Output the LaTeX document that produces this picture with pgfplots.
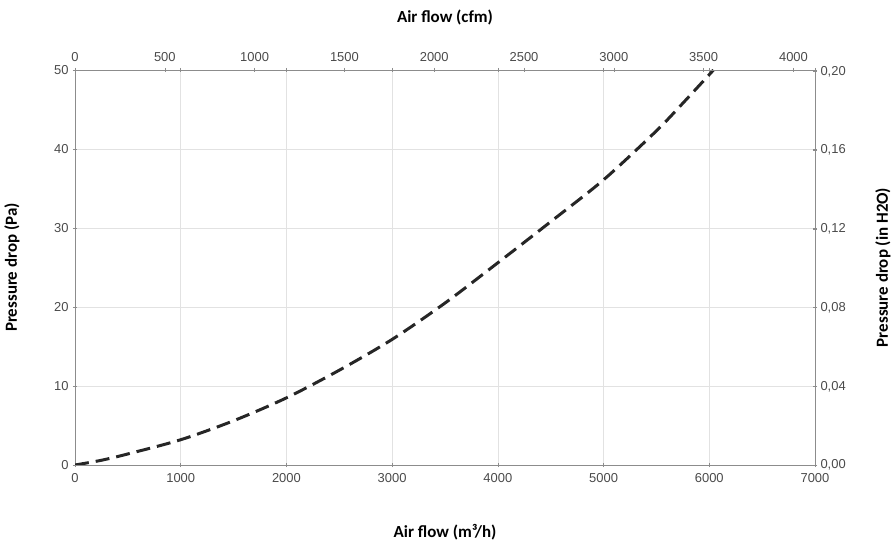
\documentclass[border=0pt]{standalone}
\usepackage{pgfplots}
\pgfplotsset{compat=1.18}
\usetikzlibrary{calc}
\usepackage{fontspec}
\setmainfont{Liberation Sans}
\newfontfamily\titlefont{Carlito}
\definecolor{gridc}{HTML}{E2E2E2}
\definecolor{axc}{HTML}{8C8C8C}
\definecolor{tickc}{HTML}{4A4A4A}
\begin{document}
\begin{tikzpicture}
\pgfplotsset{
  common/.style={
    scale only axis, width=740bp, height=395bp,
    axis line style={color=axc, line width=0.9pt},
    tick style={color=axc, line width=0.6pt},
    major tick length=4bp,
    tick align=center,
    ticklabel style={color=tickc, font=\fontsize{13}{14}\selectfont},
    /pgf/number format/assume math mode=true,
    /pgf/number format/set thousands separator={},
  }
}
\begin{axis}[common,
  xmin=0, xmax=7000, ymin=0, ymax=50,
  xtick={0,1000,2000,3000,4000,5000,6000,7000},
  ytick={0,10,20,30,40,50},
  grid=major, major grid style={color=gridc, line width=0.7pt},
  xticklabel style={yshift=-3bp},
  yticklabel style={xshift=-1bp},
]
\addplot[color=black!85, line width=3pt, dash pattern=on 14bp off 7bp, smooth] coordinates {
 (0,0) (250,0.6) (500,1.4) (1000,3.2) (1500,5.6) (2000,8.5) (2500,12.0)
 (3000,15.9) (3500,20.5) (4000,25.6) (4500,30.8) (5000,36.1) (5500,42.3) (5750,45.8) (6040,50)
};
\coordinate (SW) at (rel axis cs:0,0);
\coordinate (NE) at (rel axis cs:1,1);
\end{axis}
\begin{axis}[common,
  xmin=0, xmax=4120, ymin=0, ymax=0.2008,
  axis x line*=top, axis y line*=right,
  xtick={0,500,1000,1500,2000,2500,3000,3500,4000},
  ytick={0,0.04,0.08,0.12,0.16,0.2},
  yticklabel style={/pgf/number format/.cd, fixed, fixed zerofill, precision=2, use comma},
  xticklabel style={yshift=3bp},
]
\end{axis}
\pgfresetboundingbox
\useasboundingbox ($(SW)+(-75bp,-76bp)$) rectangle ++(895bp,541bp);
\node[font=\titlefont\bfseries\fontsize{17}{19}\selectfont, anchor=center] at ($(SW)!0.5!(SW-|NE)+(0,-67bp)$) {Air flow (m³/h)};
\node[font=\titlefont\bfseries\fontsize{17}{19}\selectfont, anchor=center] at ($(NE)!0.5!(NE-|SW)+(0,53bp)$) {Air flow (cfm)};
\node[font=\titlefont\bfseries\fontsize{17}{19}\selectfont, anchor=center, rotate=90] at ($(SW)!0.5!(SW|-NE)+(-63bp,0)$) {Pressure drop (Pa)};
\node[font=\titlefont\bfseries\fontsize{17}{19}\selectfont, anchor=center, rotate=90] at ($(NE)!0.5!(NE|-SW)+(68bp,0)$) {Pressure drop (in H2O)};
\end{tikzpicture}
\end{document}
